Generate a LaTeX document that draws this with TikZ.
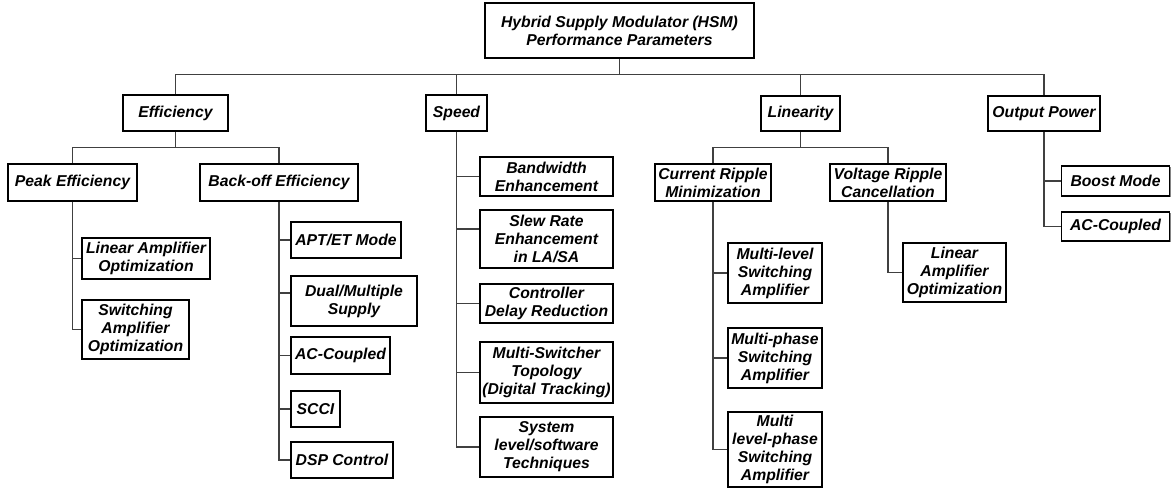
\documentclass[tikz,border=0pt]{standalone}
\usepackage{fontspec}
\setmainfont{Liberation Sans}
\usetikzlibrary{positioning, shadows}

\begin{document}
\begin{tikzpicture}[
    x=0.75pt, y=-0.75pt,
    font=\fontsize{11.8}{13.5}\selectfont\bfseries\itshape,
    block/.style 2 args={
        rectangle, draw=black, line width=1.3pt, fill=white,
        drop shadow={shadow xshift=0.8pt, shadow yshift=-0.8pt, fill=black!60, opacity=0.8},
        minimum width=#1*0.75pt, minimum height=#2*0.75pt,
        inner sep=1pt, align=center
    },
    connector/.style={
        line width=0.8pt, draw=black!75
    }
]
    \useasboundingbox (0,0) rectangle (1171,488);

    % --- NODES ---
    \node [block={269}{55}] (n_root) at (619.5, 30.5) {Hybrid Supply Modulator (HSM)\\Performance Parameters};

    \node [block={105}{36}] (n_eff) at (175.5, 113) {Efficiency};
    \node [block={61}{36}] (n_speed) at (456.5, 113) {Speed};
    \node [block={79}{35}] (n_lin) at (800.5, 113.5) {Linearity};
    \node [block={112}{35}] (n_outp) at (1044, 113.5) {Output Power};

    \node [block={129}{37}] (n_peak) at (72.5, 182.5) {Peak Efficiency};
    \node [block={158}{37}] (n_backoff) at (279, 182.5) {Back-off Efficiency};
    \node [block={116}{37}] (n_curr) at (713, 182.5) {Current Ripple\\Minimization};
    \node [block={116}{37}] (n_volt) at (888, 182.5) {Voltage Ripple\\Cancellation};

    % peak efficiency
    \node [block={128}{41}] (p_linamp) at (146, 258.5) {Linear Amplifier\\Optimization};
    \node [block={107}{59}] (p_swamp) at (135.5, 329.5) {Switching\\Amplifier\\Optimization};

    % back-off efficiency
    \node [block={110}{36}] (b_apt) at (346, 240) {APT/ET Mode};
    \node [block={126}{50}] (b_dual) at (354, 301) {Dual/Multiple\\Supply};
    \node [block={99}{37}] (b_acc) at (340.5, 355.5) {AC-Coupled};
    \node [block={49}{36}] (b_scci) at (315.5, 409) {SCCI};
    \node [block={102}{36}] (b_dsp) at (342, 460) {DSP Control};

    % speed
    \node [block={133}{39}] (s_bw) at (546.5, 176.5) {Bandwidth\\Enhancement};
    \node [block={133}{58}] (s_slew) at (546.5, 239) {Slew Rate\\Enhancement\\in LA/SA};
    \node [block={133}{39}] (s_ctrl) at (546.5, 303.5) {Controller\\Delay Reduction};
    \node [block={133}{61}] (s_msw) at (546.5, 372.5) {Multi-Switcher\\Topology\\(Digital Tracking)};
    \node [block={133}{60}] (s_sys) at (546.5, 447) {System\\level/software\\Techniques};

    % linearity
    \node [block={94}{60}] (c_ml) at (775, 273) {Multi-level\\Switching\\Amplifier};
    \node [block={94}{60}] (c_mp) at (775, 358) {Multi-phase\\Switching\\Amplifier};
    \node [block={94}{75}] (c_mlp) at (775, 449.5) {Multi\\level-phase\\Switching\\Amplifier};
    \node [block={103}{59}] (v_linamp) at (954.5, 272.5) {Linear\\Amplifier\\Optimization};

    % output power
    \node [block={108}{30}] (o_boost) at (1115.5, 181) {Boost Mode};
    \node [block={108}{29}] (o_acc) at (1115.5, 226.5) {AC-Coupled};

    % --- CONNECTING LINES ---
    \draw [connector] (n_root.south) -- ++(0,16) -| (n_eff.north);
    \draw [connector] (n_root.south) -- ++(0,16) -| (n_speed.north);
    \draw [connector] (n_root.south) -- ++(0,16) -| (n_lin.north);
    \draw [connector] (n_root.south) -- ++(0,16) -| (n_outp.north);

    \draw [connector] (n_eff.south) -- ++(0,16) -| (n_peak.north);
    \draw [connector] (n_eff.south) -- ++(0,16) -| (n_backoff.north);
    \draw [connector] (n_lin.south) -- ++(0,16) -| (n_curr.north);
    \draw [connector] (n_lin.south) -- ++(0,16) -| (n_volt.north);

    \draw [connector] (n_peak.south) |- (p_linamp.west);
    \draw [connector] (n_peak.south) |- (p_swamp.west);

    \draw [connector] (n_backoff.south) |- (b_apt.west);
    \draw [connector] (n_backoff.south) |- ([yshift=6pt]b_dual.west);
    \draw [connector] (n_backoff.south) |- (b_acc.west);
    \draw [connector] (n_backoff.south) |- (b_scci.west);
    \draw [connector] (n_backoff.south) |- (b_dsp.west);

    \draw [connector] (n_speed.south) |- (s_bw.west);
    \draw [connector] (n_speed.south) |- ([yshift=7.5pt]s_slew.west);
    \draw [connector] (n_speed.south) |- (s_ctrl.west);
    \draw [connector] (n_speed.south) |- (s_msw.west);
    \draw [connector] (n_speed.south) |- (s_sys.west);

    \draw [connector] (n_curr.south) |- (c_ml.west);
    \draw [connector] (n_curr.south) |- (c_mp.west);
    \draw [connector] (n_curr.south) |- (c_mlp.west);
    \draw [connector] (n_volt.south) |- (v_linamp.west);

    \draw [connector] (n_outp.south) |- (o_boost.west);
    \draw [connector] (n_outp.south) |- (o_acc.west);

\end{tikzpicture}
\end{document}
